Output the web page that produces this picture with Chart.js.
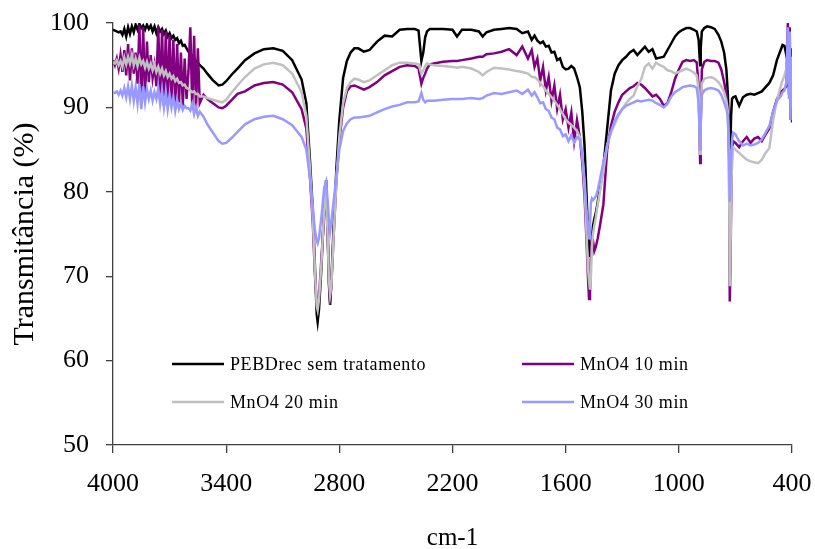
<!DOCTYPE html>
<html>
<head>
<meta charset="utf-8">
<script src="https://cdn.jsdelivr.net/npm/chart.js@4.4.1/dist/chart.umd.min.js"></script>
<style>
  html, body { margin: 0; padding: 0; background: #fff; }
  #wrap { width: 815px; height: 549px; }
</style>
</head>
<body>
<div id="wrap"><canvas id="ftirChart" width="815" height="549"></canvas></div>
<script>
// wavenumbers (cm-1), shared by all four spectra
var wavenumbers = [
  4000, 3990, 3980, 3970, 3960, 3950, 3940, 3930, 3920, 3910,
  3900, 3890, 3880, 3870, 3860, 3850, 3840, 3830, 3820, 3810,
  3800, 3790, 3780, 3770, 3760, 3750, 3740, 3730, 3720, 3710,
  3700, 3690, 3680, 3670, 3660, 3650, 3640, 3630, 3620, 3610,
  3600, 3590, 3580, 3570, 3560, 3550, 3540,
  3520, 3500, 3470, 3440, 3420, 3400, 3370, 3340,
  3300, 3250, 3200, 3150, 3100, 3050, 3000, 2975, 2955, 2940,
  2930, 2920, 2915, 2908, 2895, 2880, 2870, 2862, 2855, 2849,
  2842, 2832, 2815, 2800, 2780, 2760, 2740, 2720, 2700, 2670,
  2640, 2600, 2560, 2520, 2480, 2440, 2400, 2380, 2365, 2355,
  2345, 2335, 2320, 2300, 2250, 2200, 2176, 2150, 2100, 2060,
  2040, 2020, 1980, 1940, 1900, 1860, 1830, 1800, 1780, 1765,
  1750, 1735, 1720, 1705, 1690, 1675, 1660, 1645, 1630, 1615,
  1600, 1585, 1570, 1555, 1540, 1525, 1512, 1500, 1490, 1482,
  1476, 1471, 1466, 1461, 1455, 1448, 1440, 1430, 1418, 1400,
  1380, 1360, 1340, 1320, 1300, 1280, 1260, 1240, 1220, 1200,
  1180, 1160, 1140, 1120, 1100, 1080, 1060, 1040, 1020, 1000,
  980, 960, 940, 920, 905, 895, 890, 887, 884, 878,
  865, 850, 830, 810, 790, 775, 760, 748, 740, 734,
  730, 727, 723, 718, 712, 700, 680, 660, 640, 620,
  600, 580, 560, 540, 520, 500, 480, 460, 450, 440,
  430, 422, 416, 412, 408, 404, 400
];

var semTratamento = [
  99.2, 99.1, 99.0, 98.9, 99.0, 98.6, 99.3, 98.4, 99.5, 98.7,
  99.6, 98.9, 99.8, 99.2, 99.9, 99.4, 99.7, 99.2, 99.8, 99.3,
  99.7, 99.0, 99.6, 98.8, 99.5, 99.0, 99.3, 98.7, 99.1, 98.4,
  98.8, 98.2, 98.5, 98.0, 98.2, 97.6, 97.9, 97.3, 97.4, 97.0,
  96.6, 96.4, 96.1, 95.8, 95.5, 95.3, 95.0,
  94.6, 94.0, 93.2, 92.6, 92.7, 93.1, 93.9, 94.6,
  95.6, 96.4, 96.9, 97.0, 96.7, 95.6, 93.3, 90.5, 83.5, 77.5,
  71.5, 65.5, 64.6, 66.0, 71.0, 78.5, 81.4, 76.0, 69.0, 66.6,
  69.5, 75.0, 83.0, 88.5, 93.5, 95.5, 96.5, 97.0, 97.0, 96.6,
  96.8, 97.8, 98.5, 98.4, 99.2, 99.3, 99.3, 99.1, 95.5, 96.5,
  98.3, 99.0, 99.3, 99.3, 99.3, 99.2, 98.4, 99.2, 99.2, 99.0,
  98.4, 98.9, 99.2, 99.3, 99.4, 99.3, 98.8, 99.0, 98.0, 98.5,
  97.9, 97.6, 97.8, 97.2, 97.3, 96.5, 96.6, 95.6, 95.8, 94.8,
  94.5, 94.6, 94.9, 94.6, 93.6, 92.4, 89.5, 85.5, 80.0, 75.5,
  73.5, 72.3, 73.0, 74.5, 76.0, 76.8, 77.5, 78.8, 80.5, 83.0,
  87.5, 92.0, 94.0, 95.0, 95.6, 96.0, 96.5, 96.8, 96.2, 96.7,
  97.2, 96.6, 96.9, 95.8, 95.9, 96.0, 96.8, 97.6, 98.4, 98.9,
  99.2, 99.4, 99.4, 99.2, 99.0, 98.0, 96.0, 95.0, 97.0, 99.0,
  99.4, 99.6, 99.5, 99.3, 98.6, 97.8, 96.5, 94.5, 91.5, 87.0,
  82.8, 85.0, 89.0, 91.0, 91.2, 91.3, 90.2, 91.2, 91.5, 91.6,
  91.5, 91.7, 91.9, 92.4, 92.9, 93.8, 95.6, 96.8, 97.4, 97.3,
  96.2, 97.5, 96.0, 97.2, 95.5, 96.8, 95.0
];

var mno4_10 = [
  95.6, 95.0, 95.8, 94.6, 96.2, 94.2, 96.8, 93.8, 97.5, 93.2,
  97.0, 94.0, 96.5, 92.8, 99.8, 90.5, 99.5, 91.0, 97.8, 93.0,
  96.2, 93.5, 95.0, 92.5, 99.6, 91.0, 99.2, 90.2, 99.0, 90.5,
  98.6, 90.8, 98.0, 90.0, 97.5, 90.6, 96.5, 90.2, 95.8, 91.0,
  94.2, 99.5, 90.0, 98.5, 89.8, 97.0, 90.5,
  91.5, 91.0, 90.5, 90.0, 89.9, 90.2, 90.9, 91.6,
  91.9, 92.6, 92.9, 93.0, 92.7, 91.8, 89.8, 87.5, 81.5, 76.0,
  70.5, 66.8, 66.4, 67.5, 72.0, 77.5, 80.0, 74.5, 69.5, 67.0,
  69.0, 74.0, 81.5, 86.0, 90.0, 91.9, 92.5, 92.6, 92.4, 92.1,
  92.4, 93.0, 93.8, 94.3, 94.8, 95.0, 94.9, 94.6, 92.8, 93.5,
  94.0, 94.6, 95.1, 95.2, 95.4, 95.5, 95.5, 95.6, 95.8, 96.0,
  96.0, 96.3, 96.4, 96.6, 96.9, 96.2, 97.2, 95.8, 96.8, 94.8,
  95.8, 93.2, 94.8, 92.0, 93.6, 90.8, 92.6, 89.8, 91.5, 88.6,
  89.8, 87.6, 89.4, 86.0, 88.5, 86.5, 83.5, 79.5, 74.5, 70.0,
  67.3, 68.0, 72.5, 74.5, 74.2, 73.0, 73.5, 74.5, 76.0, 78.5,
  85.0, 87.8, 89.5, 90.6, 91.5, 91.9, 92.3, 92.5, 92.9, 92.7,
  92.3, 91.8, 91.3, 91.5, 91.0, 90.2, 90.5, 91.8, 93.4, 94.5,
  95.4, 95.6, 95.5, 95.6, 95.3, 92.5, 86.5, 83.4, 88.0, 94.5,
  95.4, 95.6, 95.5, 95.5, 95.3, 94.5, 93.0, 91.5, 89.5, 84.0,
  67.0, 70.5, 77.5, 84.5, 86.0, 85.8, 85.3, 86.0, 86.5, 85.8,
  86.3, 86.5, 86.0, 86.8, 87.5, 89.5, 91.0, 91.8, 92.0, 92.2,
  92.5, 100.0, 91.5, 99.5, 88.5, 97.0, 88.2
];

var mno4_20 = [
  95.4, 95.2, 95.6, 95.0, 95.5, 94.8, 95.9, 95.1, 96.0, 95.2,
  96.2, 95.0, 95.8, 94.9, 95.9, 95.1, 95.5, 94.7, 95.4, 94.6,
  95.2, 94.4, 95.1, 94.2, 94.8, 94.0, 94.6, 93.8, 94.3, 93.6,
  94.0, 93.4, 93.7, 93.1, 93.4, 92.9, 93.0, 92.6, 92.7, 92.3,
  92.2, 92.0, 91.8, 91.9, 91.6, 91.6, 91.3,
  91.3, 91.1, 90.9, 90.7, 90.6, 90.9, 91.8, 92.6,
  93.6, 94.6, 95.1, 95.3, 95.0, 94.0, 91.8, 89.0, 82.5, 76.5,
  71.0, 66.5, 66.0, 67.2, 71.5, 78.0, 80.5, 75.0, 69.5, 67.8,
  69.0, 74.0, 81.5, 86.5, 90.5, 92.3, 93.0, 93.4, 93.3, 93.0,
  93.2, 93.8, 94.4, 95.0, 95.3, 95.3, 95.2, 95.1, 94.0, 94.4,
  94.9, 95.2, 95.1, 95.0, 94.9, 94.8, 94.7, 94.8, 94.6, 94.2,
  93.8, 94.2, 94.7, 94.6, 94.5, 94.3, 94.2, 94.0, 93.6, 93.6,
  93.3, 92.9, 92.5, 92.0, 91.6, 91.2, 90.8, 90.3, 89.8, 89.2,
  88.6, 88.2, 87.9, 87.6, 87.2, 86.5, 84.5, 80.5, 75.5, 71.0,
  69.5, 68.4, 70.0, 73.5, 75.0, 76.0, 77.0, 78.5, 80.0, 82.5,
  85.5, 87.0, 88.0, 89.0, 89.8, 90.5, 91.0, 91.4, 92.5, 93.3,
  94.8, 95.2, 94.6, 95.3, 95.0, 94.8, 94.4, 94.3, 94.0, 94.2,
  94.4, 94.6, 94.4, 94.1, 93.8, 92.0, 87.5, 84.5, 88.0, 92.8,
  93.4, 93.5, 93.6, 93.4, 93.0, 92.5, 91.8, 90.8, 89.5, 84.0,
  68.8, 72.0, 78.0, 84.0, 85.3, 85.0, 84.6, 84.2, 83.8, 83.6,
  83.5, 83.4, 83.8, 84.6, 85.2, 88.5, 90.8, 92.5, 93.2, 93.8,
  94.6, 95.5, 93.8, 96.5, 93.0, 95.0, 92.0
];

var mno4_30 = [
  91.8, 91.7, 91.9, 91.5, 92.0, 91.4, 92.3, 91.2, 92.5, 91.0,
  92.6, 90.8, 92.4, 90.5, 92.8, 89.8, 92.5, 90.6, 92.2, 91.0,
  92.0, 90.8, 91.8, 91.0, 92.3, 90.4, 92.0, 90.0, 91.8, 89.8,
  91.5, 90.0, 91.2, 89.6, 90.9, 89.8, 90.5, 89.7, 90.2, 89.9,
  89.9, 89.6, 90.4, 89.2, 90.0, 89.0, 89.5,
  88.9, 88.0, 87.0, 86.0, 85.7, 85.8, 86.4, 87.1,
  88.0, 88.6, 88.9, 89.0, 88.6, 87.9, 86.5, 85.0, 81.5, 78.0,
  75.5, 74.2, 73.9, 74.5, 77.0, 80.5, 81.2, 79.0, 76.5, 75.3,
  76.5, 78.5, 82.0, 85.0, 87.2, 88.1, 88.6, 88.8, 88.8, 88.9,
  89.0, 89.4, 89.8, 90.1, 90.3, 90.6, 90.6, 90.7, 91.7, 90.9,
  90.6, 90.8, 90.8, 90.8, 90.9, 91.0, 91.0, 91.0, 91.1, 91.0,
  91.1, 91.4, 91.7, 91.6, 91.8, 92.0, 91.6, 92.1, 91.4, 91.8,
  91.2, 90.5, 90.6, 89.8, 89.6, 88.8, 88.6, 87.6, 87.4, 86.6,
  86.8, 86.0, 86.7, 85.8, 86.5, 86.2, 84.5, 81.5, 78.0, 76.0,
  74.5, 76.0, 78.8, 79.2, 79.0, 79.2, 79.5, 80.2, 81.5, 83.5,
  85.5, 87.2, 88.4, 89.2, 89.8, 90.2, 90.4, 90.6, 90.8, 90.7,
  90.8, 90.9, 90.8, 90.5, 90.3, 90.0, 90.4, 91.3, 91.8, 92.1,
  92.4, 92.5, 92.6, 92.5, 92.3, 90.5, 87.0, 85.0, 88.0, 91.5,
  92.0, 92.2, 92.3, 92.2, 92.0, 91.5, 90.6, 89.8, 89.0, 85.0,
  78.8, 80.5, 83.5, 86.0, 87.0, 86.8, 86.0, 85.5, 85.7, 85.5,
  85.6, 85.8, 86.2, 87.0, 87.8, 89.5, 90.8, 91.3, 91.8, 92.0,
  93.0, 99.5, 91.0, 99.0, 88.5, 96.0, 90.0
];

var seriesNames = ['PEBDrec sem tratamento', 'MnO4 10 min', 'MnO4 20 min', 'MnO4 30 min'];
var seriesColors = ['#000000', '#800080', '#C0C0C0', '#9999FF'];
var xTickValues = [400, 1000, 1600, 2200, 2800, 3400, 4000];
var yTickValues = [50, 60, 70, 80, 90, 100];

var serif = '"Liberation Serif", "Times New Roman", serif';

function toPoints(values) {
  return wavenumbers.map(function (w, i) {
    return { x: w, y: values[i] };
  });
}

var allSeries = [semTratamento, mno4_10, mno4_20, mno4_30];

// legend sits inside the plot area, two columns, like the original
var insideLegend = {
  id: 'insideLegend',
  afterDraw: function (chart) {
    var ctx = chart.ctx;
    var area = chart.chartArea;
    var cols = [area.left + 59, area.left + 409];
    var rows = [area.top + 341, area.top + 379];
    ctx.save();
    ctx.font = '18px ' + serif;
    if ('letterSpacing' in ctx) ctx.letterSpacing = '0.6px';
    ctx.textBaseline = 'middle';
    ctx.fillStyle = '#000';
    chart.data.datasets.forEach(function (ds, i) {
      var x = cols[i % 2];
      var y = rows[Math.floor(i / 2)];
      ctx.strokeStyle = ds.borderColor;
      ctx.lineWidth = 2.5;
      ctx.beginPath();
      ctx.moveTo(x, y);
      ctx.lineTo(x + 52, y);
      ctx.stroke();
      ctx.fillText(ds.label, x + 58, y + 1);
    });
    ctx.restore();
  }
};

var ctx = document.getElementById('ftirChart').getContext('2d');

new Chart(ctx, {
  type: 'line',
  data: {
    datasets: allSeries.map(function (vals, i) {
      return {
        label: seriesNames[i],
        data: toPoints(vals),
        borderColor: seriesColors[i],
        borderWidth: 2.5,
        pointRadius: 0,
        tension: 0,
        fill: false,
        order: 4 - i
      };
    })
  },
  options: {
    responsive: false,
    animation: false,
    events: [],
    layout: { padding: { left: 0, right: 23, top: 23, bottom: 0 } },
    plugins: {
      legend: { display: false },
      tooltip: { enabled: false }
    },
    scales: {
      x: {
        type: 'linear',
        reverse: true,
        min: 400,
        max: 4000,
        afterBuildTicks: function (scale) {
          scale.ticks = xTickValues.map(function (v) { return { value: v }; });
        },
        afterFit: function (scale) { scale.height = 104; },
        grid: { drawOnChartArea: false, drawTicks: true, tickLength: 8, color: '#404040', lineWidth: 1.3 },
        border: { display: true, color: '#404040', width: 1.3 },
        ticks: {
          color: '#000',
          padding: 0,
          maxRotation: 0,
          callback: function (v) { return String(v); },
          font: { family: serif, size: 26, lineHeight: 2.38 }
        },
        title: {
          display: true,
          text: 'cm-1',
          color: '#000',
          padding: { top: 0, bottom: 0 },
          font: { family: serif, size: 25, lineHeight: 0.85 }
        }
      },
      y: {
        min: 50,
        max: 100,
        afterBuildTicks: function (scale) {
          scale.ticks = yTickValues.map(function (v) { return { value: v }; });
        },
        afterFit: function (scale) { scale.width = 113; },
        grid: { drawOnChartArea: false, drawTicks: true, tickLength: 7, color: '#404040', lineWidth: 1.3 },
        border: { display: true, color: '#404040', width: 1.3 },
        ticks: {
          color: '#000',
          padding: 17,
          callback: function (v) { return String(v); },
          font: { family: serif, size: 26, lineHeight: 0.4 }
        },
        title: {
          display: true,
          text: 'Transmitância (%)',
          color: '#000',
          padding: { top: 10, bottom: 0 },
          font: { family: serif, size: 30, lineHeight: 1 }
        }
      }
    }
  },
  plugins: [insideLegend]
});
</script>
</body>
</html>
